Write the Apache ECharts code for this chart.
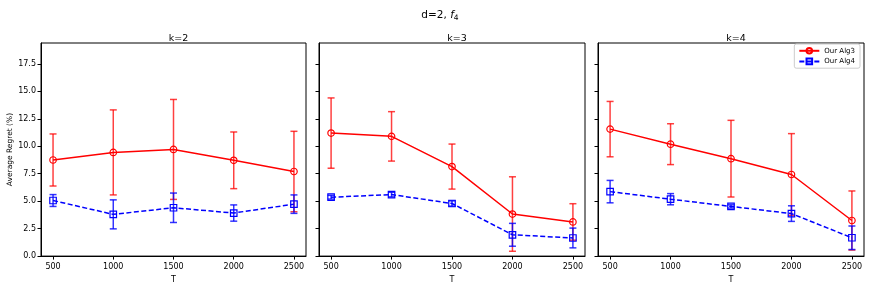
<!DOCTYPE html>
<html><head><meta charset="utf-8">
<script src="https://cdn.jsdelivr.net/npm/echarts@6/dist/echarts.min.js"></script>
<style>html,body{margin:0;padding:0;background:#fff}#c{width:870px;height:289px}</style>
</head><body><div id="c"></div>
<script>
const T = [500, 1000, 1500, 2000, 2500];
const yTicks = [0, 2.5, 5, 7.5, 10, 12.5, 15, 17.5];
const panelTitles = ['k=2', 'k=3', 'k=4'];
const seriesNames = ['Our Alg3', 'Our Alg4'];
// k=2
const alg3_k2 = [8.75, 9.44, 9.71, 8.72, 7.70];
const alg3_k2_err = [2.37, 3.87, 4.55, 2.58, 3.66];
const alg4_k2 = [5.06, 3.80, 4.40, 3.92, 4.73];
const alg4_k2_err = [0.54, 1.32, 1.34, 0.74, 0.84];
// k=3
const alg3_k3 = [11.20, 10.90, 8.15, 3.83, 3.11];
const alg3_k3_err = [3.20, 2.25, 2.05, 3.39, 1.66];
const alg4_k3 = [5.36, 5.60, 4.79, 1.94, 1.65];
const alg4_k3_err = [0.17, 0.21, 0.24, 1.04, 0.90];
// k=4
const alg3_k4 = [11.56, 10.19, 8.87, 7.43, 3.24];
const alg3_k4_err = [2.52, 1.86, 3.49, 3.72, 2.69];
const alg4_k4 = [5.87, 5.18, 4.52, 3.87, 1.67];
const alg4_k4_err = [1.02, 0.51, 0.15, 0.71, 1.07];

const alg3 = [alg3_k2, alg3_k3, alg3_k4];
const alg3Err = [alg3_k2_err, alg3_k3_err, alg3_k4_err];
const alg4 = [alg4_k2, alg4_k3, alg4_k4];
const alg4Err = [alg4_k2_err, alg4_k3_err, alg4_k4_err];

const FONT = 'DejaVu Sans';
const RED = '#ff0000', BLUE = '#0000ff';
const gridLefts = [41, 319, 598];
const gridW = [265, 266, 266];

function errRender(color) {
  return function (params, api) {
    const x = api.value(0), lo = api.value(1), hi = api.value(2);
    const a = api.coord([x, hi]), b = api.coord([x, lo]);
    const cw = 3.5;
    const st = { stroke: color, lineWidth: 1.5 };
    return { type: 'group', children: [
      { type: 'line', shape: { x1: a[0], y1: a[1], x2: b[0], y2: b[1] }, style: st },
      { type: 'line', shape: { x1: a[0] - cw, y1: a[1], x2: a[0] + cw, y2: a[1] }, style: st },
      { type: 'line', shape: { x1: b[0] - cw, y1: b[1], x2: b[0] + cw, y2: b[1] }, style: st }
    ]};
  };
}

const grids = [], xAxes = [], yAxes = [], series = [];
const titles = [{
  text: '{n|d=2, }{i|f}{s|4}',
  left: 435, top: 3, textAlign: 'center',
  textStyle: { fontWeight: 'normal', rich: {
    n: { fontFamily: FONT, fontSize: 10.5, fontWeight: 'normal', color: '#000' },
    i: { fontFamily: FONT, fontSize: 10.5, fontStyle: 'italic', fontWeight: 'normal', color: '#000' },
    s: { fontFamily: FONT, fontSize: 7.5, fontWeight: 'normal', color: '#000', padding: [6, 0, 0, 0] }
  } }
}];
for (let p = 0; p < 3; p++) {
  grids.push({ left: gridLefts[p], top: 43, width: gridW[p], height: 215, show: true, borderColor: '#000', borderWidth: 1, containLabel: false });
  titles.push({ text: panelTitles[p], left: gridLefts[p] + gridW[p] / 2, top: 29, textAlign: 'center',
    textStyle: { fontFamily: FONT, fontSize: 9.5, fontWeight: 'normal', color: '#000' } });
  xAxes.push({ type: 'value', gridIndex: p, min: 400, max: 2600, name: 'T', nameLocation: 'middle', nameGap: 16,
    nameTextStyle: { fontFamily: FONT, fontSize: 8, color: '#000' },
    axisLine: { show: true, lineStyle: { color: '#000', width: 1 } },
    axisTick: { show: true, length: 3.5, customValues: T, lineStyle: { color: '#000' } },
    axisLabel: { customValues: T, margin: 7, fontFamily: FONT, fontSize: 8, color: '#000', formatter: v => String(v) },
    splitLine: { show: false } });
  yAxes.push({ type: 'value', gridIndex: p, min: 0, max: 19.4,
    name: p === 0 ? 'Average Regret (%)' : '', nameLocation: 'middle', nameGap: 27,
    nameTextStyle: { fontFamily: FONT, fontSize: 7.5, color: '#000' },
    axisLine: { show: true, lineStyle: { color: '#000', width: 1 } },
    axisTick: { show: true, length: 3.5, customValues: yTicks, lineStyle: { color: '#000' } },
    axisLabel: { show: p === 0, customValues: yTicks, margin: 5, fontFamily: FONT, fontSize: 8, color: '#000',
      formatter: v => v.toFixed(1) },
    splitLine: { show: false } });

  const groups = [[alg3[p], alg3Err[p], RED, 'circle', 'solid', seriesNames[0]],
                  [alg4[p], alg4Err[p], BLUE, 'rect', 'dashed', seriesNames[1]]];
  groups.forEach(([vals, errs, color, sym, ls, name], gi) => {
    series.push({ type: 'custom', xAxisIndex: p, yAxisIndex: p, z: 2 + gi * 3,
      renderItem: errRender(color === RED ? 'rgba(255,0,0,0.75)' : 'rgba(0,0,255,0.8)'),
      encode: { x: 0, y: [1, 2] }, silent: true,
      data: T.map((t, i) => [t, vals[i] - errs[i], vals[i] + errs[i]]) });
    series.push({ type: 'line', name, xAxisIndex: p, yAxisIndex: p, z: 3 + gi * 3,
      data: T.map((t, i) => [t, vals[i]]),
      symbol: sym, symbolSize: 6.5, showAllSymbol: true,
      lineStyle: { color, width: 1.5, type: ls === 'dashed' ? [5, 2.5] : 'solid' },
      itemStyle: { color: 'rgba(255,255,255,0)', borderColor: color, borderWidth: 1.2 },
      animation: false });
  });
}

const chart = echarts.init(document.getElementById('c'), null, { renderer: 'canvas' });
chart.setOption({
  animation: false,
  backgroundColor: '#fff',
  title: titles,
  grid: grids, xAxis: xAxes, yAxis: yAxes, series,
  legend: { data: seriesNames, right: 10, top: 44, orient: 'vertical', itemWidth: 20, itemHeight: 7, itemGap: 3,
    padding: [3, 5, 3, 4], borderColor: '#cccccc', borderWidth: 1, borderRadius: 2, backgroundColor: '#fff',
    textStyle: { fontFamily: FONT, fontSize: 7, color: '#000' } }
});
</script></body></html>
